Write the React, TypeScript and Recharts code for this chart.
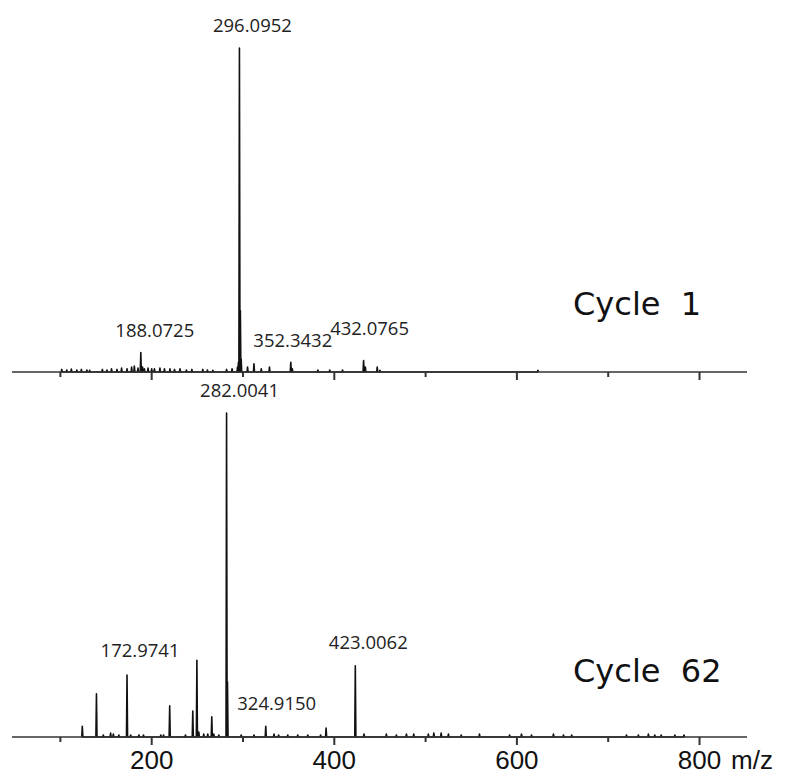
import React from "react";
import { LineChart, Line, XAxis, YAxis, LabelList } from "recharts";

// x axis ticks (m/z)
const tickValues = [100, 200, 300, 400, 500, 600, 700, 800];

// Cycle 1 spectrum: m/z and relative intensity (%)
const cycle1Mz = [
  101.5, 107, 112, 118, 123, 129, 132, 146, 151, 156, 162, 167, 173, 178, 181,
  185, 188.0725, 190, 192, 196, 200, 203, 209, 214, 220, 225, 231, 238, 244,
  256, 261, 267, 282, 288, 294, 295, 296.0952, 297.1, 298, 305, 312, 320, 329,
  352.3432, 354, 382, 395, 409, 432.0765, 434, 447, 450, 623,
];
const cycle1Int = [
  0.8, 0.6, 0.9, 0.6, 0.8, 0.6, 0.5, 0.8, 0.6, 1.0, 0.8, 1.2, 1.0, 1.5, 1.8,
  1.2, 6.0, 1.5, 1.0, 1.2, 1.0, 1.0, 1.2, 1.0, 1.0, 0.8, 1.0, 0.6, 0.8, 0.8,
  0.6, 0.5, 0.8, 1.0, 1.5, 3.0, 100, 19, 4, 1.5, 2.5, 1.0, 1.5, 3.0, 1.0, 0.6,
  0.6, 0.6, 3.5, 1.5, 1.5, 0.5, 0.5,
];
const cycle1Labeled = [188.0725, 296.0952, 352.3432, 432.0765];

// Cycle 62 spectrum
const cycle62Mz = [
  124, 139.5, 147, 155, 158, 164, 172.9741, 177, 186, 191, 210, 213, 219.7, 237,
  245, 249.5, 251.6, 257, 261.4, 265.8, 268, 273.5, 282.0041, 283, 298, 312,
  324.915, 334, 339, 349, 360, 371, 385, 391, 423.0062, 432.5, 457, 468, 479,
  487, 503, 509, 517, 525, 539, 559, 592, 605, 616, 640, 651, 660, 720, 733,
  744, 751, 758, 773, 783,
];
const cycle62Int = [
  3.3, 13.3, 0.6, 1.2, 0.9, 0.6, 19.1, 0.6, 0.6, 0.6, 0.6, 0.6, 9.6, 0.6, 8.0,
  23.7, 1.5, 0.9, 0.9, 6.2, 0.9, 0.6, 100, 17, 0.6, 0.6, 3.3, 0.9, 0.6, 0.6,
  0.6, 0.6, 0.6, 2.8, 22, 0.9, 0.9, 0.6, 0.9, 0.9, 0.9, 1.2, 1.2, 0.9, 0.6,
  0.9, 0.6, 0.9, 0.6, 0.9, 0.6, 0.6, 0.6, 0.6, 0.9, 0.6, 0.6, 0.6, 0.6,
];
const cycle62Labeled = [172.9741, 282.0041, 324.915, 423.0062];

// where each peak label sits relative to its peak top [dx, lift]
const labelNudge: Record<string, [number, number]> = {
  "188.0725": [14, 16],
  "296.0952": [13, 16],
  "352.3432": [2, 15],
  "432.0765": [6, 26],
  "172.9741": [13, 18],
  "282.0041": [13, 16],
  "324.9150": [11, 16],
  "423.0062": [13, 17],
};

type Row = { x: number; y: number; label?: string };

function buildSticks(mz: number[], inten: number[], labeled: number[]): Row[] {
  const rows: Row[] = [];
  mz.forEach((m, i) => {
    rows.push({ x: m - 0.6, y: 0 });
    rows.push({
      x: m,
      y: inten[i],
      label: labeled.includes(m) ? m.toFixed(4) : undefined,
    });
    rows.push({ x: m + 0.6, y: 0 });
  });
  return rows;
}

const cycle1Data = buildSticks(cycle1Mz, cycle1Int, cycle1Labeled);
const cycle62Data = buildSticks(cycle62Mz, cycle62Int, cycle62Labeled);

const AxisTick = (props: any) => {
  const { x, y, payload, showText } = props;
  const major = payload.value % 200 === 0;
  return (
    <g>
      <line
        x1={x}
        x2={x}
        y1={y}
        y2={y + (major ? 8 : 5)}
        stroke='#333'
        strokeWidth={2}
      />
      {showText && major && (
        <text
          x={x}
          y={y + 32}
          textAnchor='middle'
          fontFamily='"Liberation Sans", Arial, sans-serif'
          fontSize={26}
          fill='#111'
        >
          {payload.value}
        </text>
      )}
    </g>
  );
};

const PeakLabel = (props: any) => {
  const { x, y, value } = props;
  if (!value) return null;
  const [dx, lift] = labelNudge[value] ?? [12, 16];
  return (
    <text
      x={x + dx}
      y={y - lift}
      textAnchor='middle'
      fontFamily='"Open Sans", sans-serif'
      fontSize={18.5}
      fill='#222'
    >
      {value}
    </text>
  );
};

const Spectrum: React.FC<{
  data: Row[];
  height: number;
  top: number;
  axisHeight: number;
  showText: boolean;
}> = ({ data, height, top, axisHeight, showText }) => (
  <LineChart
    width={787}
    height={height}
    data={data}
    margin={{ top, right: 40, bottom: 0, left: 12 }}
  >
    <XAxis
      dataKey='x'
      type='number'
      domain={[47, 852]}
      ticks={tickValues}
      interval={0}
      height={axisHeight}
      tickSize={0}
      tickMargin={0}
      tickLine={false}
      axisLine={{ stroke: "#333", strokeWidth: 1.5 }}
      tick={(p: any) => <AxisTick {...p} showText={showText} />}
      allowDataOverflow
    />
    <YAxis hide domain={[0, 100]} />
    <Line
      type='linear'
      dataKey='y'
      stroke='#111'
      strokeWidth={1.6}
      strokeLinejoin='round'
      dot={false}
      isAnimationActive={false}
    >
      <LabelList dataKey='label' content={<PeakLabel />} />
    </Line>
  </LineChart>
);

const App: React.FC = () => {
  return (
    <div
      style={{
        position: "absolute",
        left: 0,
        top: 0,
        width: 787,
        height: 775,
        background: "#fff",
      }}
    >
      <div style={{ position: "absolute", left: 0, top: 0 }}>
        <Spectrum
          data={cycle1Data}
          height={384}
          top={48}
          axisHeight={12}
          showText={false}
        />
      </div>
      <div style={{ position: "absolute", left: 0, top: 360 }}>
        <Spectrum
          data={cycle62Data}
          height={415}
          top={53}
          axisHeight={38}
          showText
        />
      </div>
      <svg
        width={787}
        height={775}
        style={{ position: "absolute", left: 0, top: 0, pointerEvents: "none" }}
      >
        <text
          x={573}
          y={315}
          fontFamily='"DejaVu Sans", Verdana, sans-serif'
          fontSize={32}
          fill='#111'
          xmlSpace='preserve'
        >
          Cycle  1
        </text>
        <text
          x={573}
          y={682}
          fontFamily='"DejaVu Sans", Verdana, sans-serif'
          fontSize={32}
          fill='#111'
          xmlSpace='preserve'
        >
          Cycle  62
        </text>
        <text
          x={731}
          y={769}
          fontFamily='"Liberation Sans", Arial, sans-serif'
          fontSize={26}
          fill='#111'
        >
          m/z
        </text>
      </svg>
    </div>
  );
};

export default App;
